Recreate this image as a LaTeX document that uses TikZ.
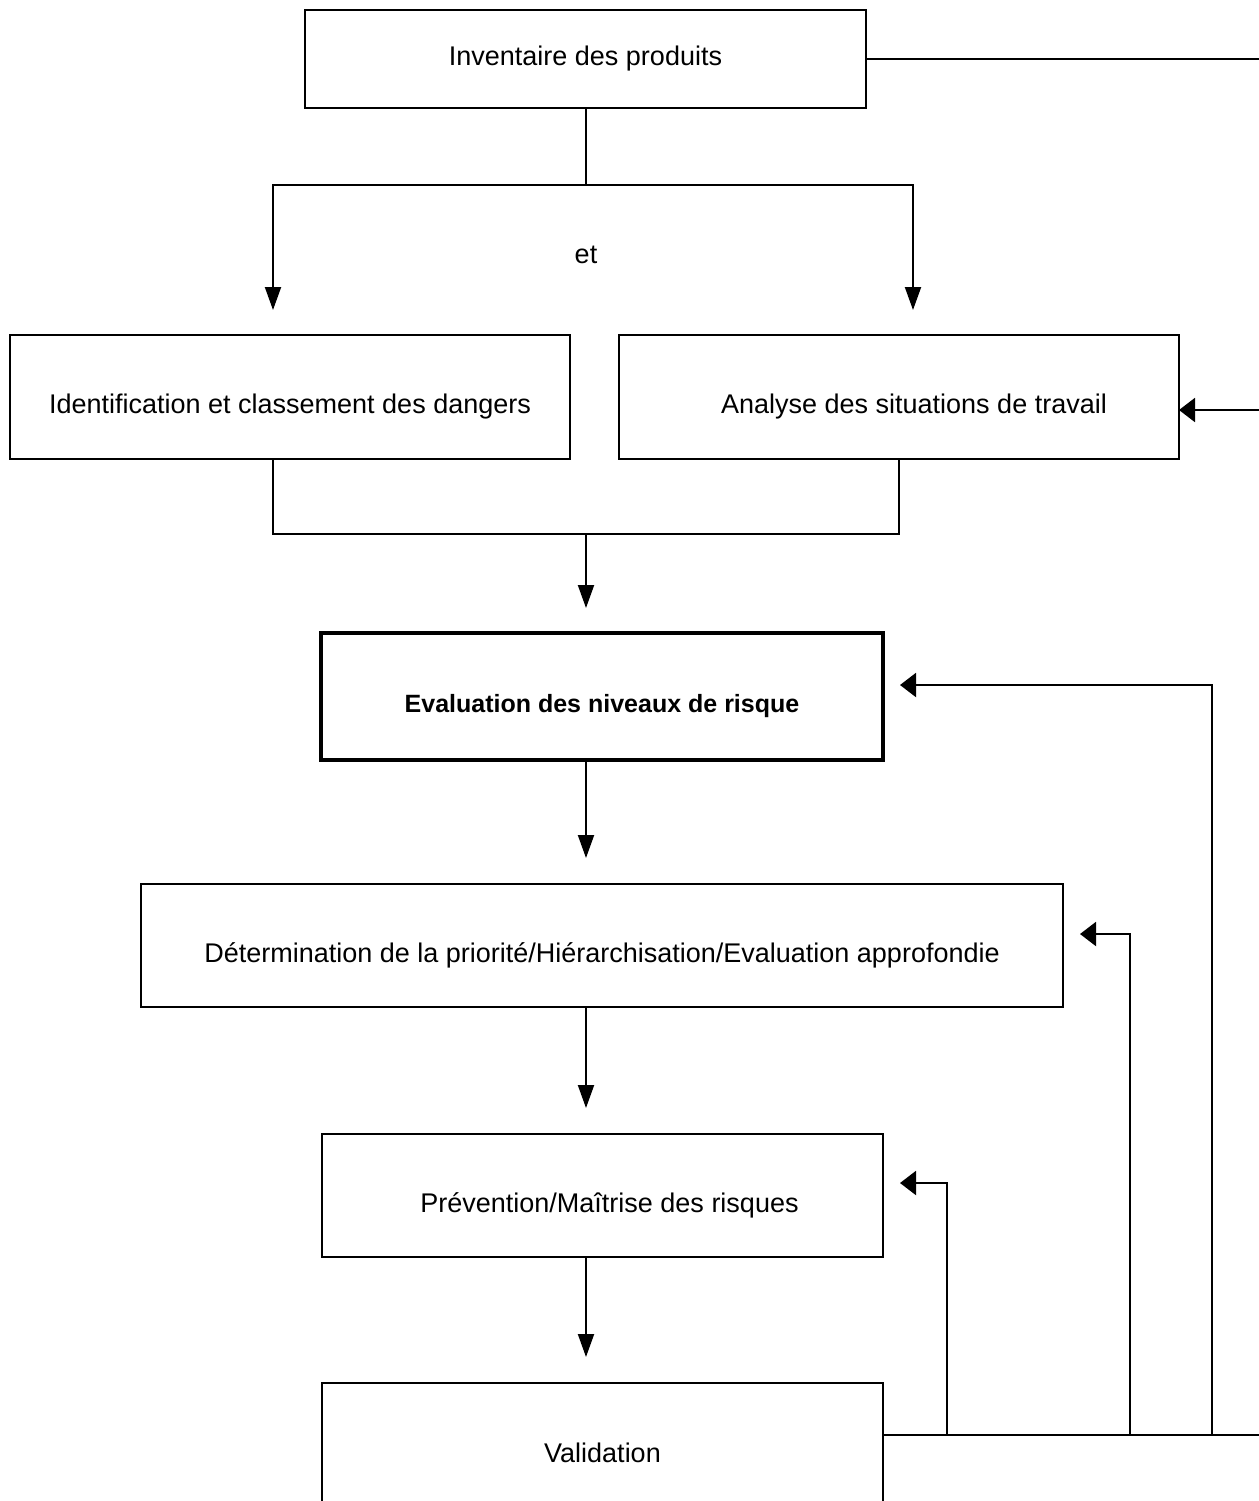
\documentclass[tikz,border=0pt]{standalone}
\usepackage{fontspec}
\setmainfont{Liberation Sans}
\usetikzlibrary{arrows.meta}
\newcommand\dropT[1]{\raisebox{-5pt}[\height][\depth]{#1}}
\begin{document}
\begin{tikzpicture}[x=0.5pt,y=-0.5pt,
  box/.style={draw, line width=1pt, rectangle, inner sep=0pt, outer sep=0pt, font=\fontsize{13.5}{16}\selectfont},
  conn/.style={line width=1pt},
  dn/.style={conn,-{Triangle[length=11.5pt,width=8pt]}},
  lf/.style={conn,-{Triangle[length=8pt,width=12pt]}},
  lbl/.style={font=\fontsize{13.5}{16}\selectfont, inner sep=0pt}]
\useasboundingbox (0,0) rectangle (1259,1501);
\clip (0,0) rectangle (1259,1501);

% boxes
\node[box, minimum width=280.5pt, minimum height=49pt] (inv) at (585.5,59) {Inventaire des produits};
\node[box, minimum width=280pt, minimum height=62pt] (ident) at (290,397) {\dropT{Identification et classement des dangers}};
\node[box, minimum width=280pt, minimum height=62pt] (ana) at (899,397) {\hspace*{15pt}\dropT{Analyse des situations de travail}};
\node[box, line width=2pt, minimum width=281pt, minimum height=63.5pt, font=\fontsize{12.5}{15}\selectfont\bfseries] (eval) at (602,696.5) {\dropT{Evaluation des niveaux de risque}};
\node[box, minimum width=461pt, minimum height=61.5pt] (det) at (602,945.5) {\dropT{Détermination de la priorité/Hiérarchisation/Evaluation approfondie}};
\node[box, minimum width=280.5pt, minimum height=61.5pt] (prev) at (602.5,1195.5) {\hspace*{7pt}\dropT{Prévention/Maîtrise des risques}};
\node[box, minimum width=280.5pt, minimum height=70pt] (val) at (602.5,1453) {Validation};

% helper coordinates
\coordinate (mx) at (586,0);
\coordinate (rx) at (1270,0);
\coordinate (split) at (586,185);
\coordinate (tL) at (273,310);
\coordinate (tR) at (913,310);
\coordinate (jL) at (273,534);
\coordinate (jR) at (899,534);
\coordinate (join) at (586,534);
\coordinate (evalTop) at ([yshift=12.5pt]eval.north);
\coordinate (detTop) at ([yshift=13pt]det.north);
\coordinate (prevTop) at ([yshift=13pt]prev.north);
\coordinate (valTop) at ([yshift=13pt]val.north);
\coordinate (anaIn) at ([yshift=-6.5pt]ana.east);
\coordinate (vOut) at ([yshift=9pt]val.east);
\coordinate (fbP) at ([xshift=8.5pt,yshift=6.25pt]prev.east);
\coordinate (fbD) at ([xshift=8.5pt,yshift=5.75pt]det.east);
\coordinate (fbE) at ([xshift=8.5pt,yshift=5.75pt]eval.east);
\coordinate (xP) at (947,0);
\coordinate (xD) at (1130,0);
\coordinate (xE) at (1212,0);

% top split
\draw[conn] (inv.south) -- (inv.south |- split);
\draw[dn] (split) -| (tL);
\draw[dn] (split) -| (tR);
\node[lbl] (et) at (586,255) {et};

% right top line into Analyse
\draw[conn] (inv.east) -- (inv.east -| rx);
\draw[lf] (anaIn -| rx) -- (anaIn);

% merge
\draw[conn] (ident.south -| jL) -- (jL) -- (jR) -- (ana.south -| jR);
\draw[dn] (join) -- (evalTop -| mx);

% main chain
\draw[dn] (eval.south -| mx) -- (detTop -| mx);
\draw[dn] (det.south -| mx) -- (prevTop -| mx);
\draw[dn] (prev.south -| mx) -- (valTop -| mx);

% feedback
\draw[conn] (vOut) -- (vOut -| rx);
\draw[lf] (vOut -| xP) |- (fbP);
\draw[lf] (vOut -| xD) |- (fbD);
\draw[lf] (vOut -| xE) |- (fbE);
\end{tikzpicture}
\end{document}
